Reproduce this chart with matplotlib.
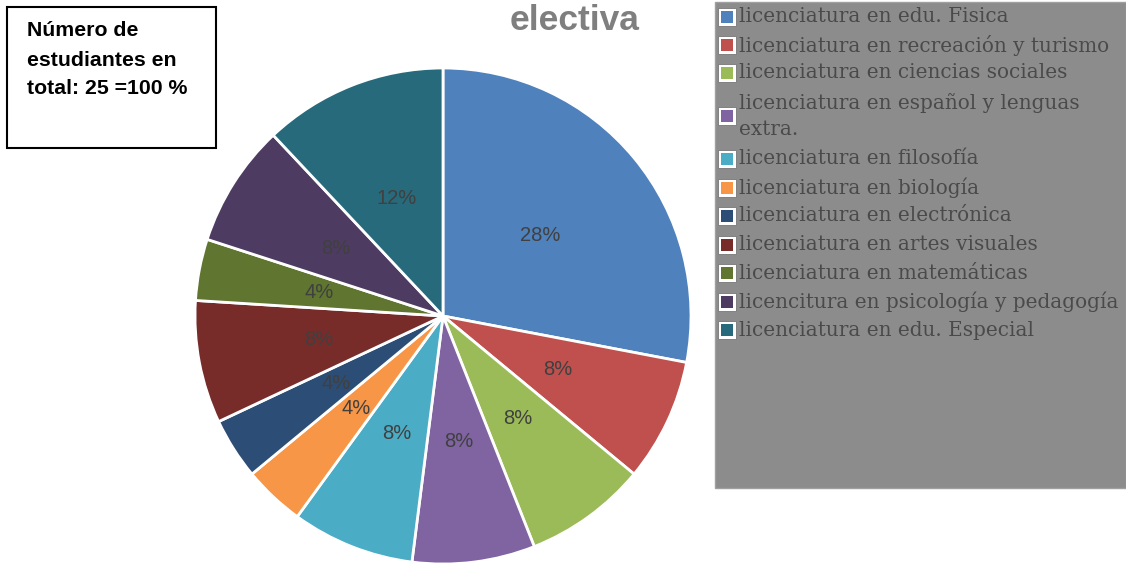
import matplotlib
matplotlib.use("Agg")
import matplotlib.pyplot as plt
from matplotlib.patches import Rectangle

categories = [
    "licenciatura en edu. Fisica",
    "licenciatura en recreación y turismo",
    "licenciatura en ciencias sociales",
    "licenciatura en español y lenguas\nextra.",
    "licenciatura en filosofía",
    "licenciatura en biología",
    "licenciatura en electrónica",
    "licenciatura en artes visuales",
    "licenciatura en matemáticas",
    "licencitura en psicología y pedagogía",
    "licenciatura en edu. Especial",
]
percentages = [28, 8, 8, 8, 8, 4, 4, 8, 4, 8, 12]
colors = ["#4F81BD", "#C0504D", "#9BBB59", "#8064A2", "#4BACC6", "#F79646",
          "#2C4D75", "#772C2A", "#5F7530", "#4D3B62", "#276A7C"]
title = "electiva"
note_lines = ["Número de", "estudiantes en", "total: 25 =100 %"]

W, H = 1126, 568
fig = plt.figure(figsize=(W / 100, H / 100), dpi=100)
fig.patch.set_facecolor("white")

# pie axes
cx, cy, R = 443, 316, 250
ax = fig.add_axes([(cx - R) / W, (H - cy - R) / H, 2 * R / W, 2 * R / H])
wedges, texts = ax.pie(
    percentages, colors=colors, startangle=90, counterclock=False,
    radius=0.992, labels=[f"{p}%" for p in percentages], labeldistance=0.51,
    wedgeprops=dict(edgecolor="white", linewidth=2),
    textprops=dict(color="#404040", fontsize=14.5, family="Liberation Sans"),
)
for t in texts:
    t.set_horizontalalignment("center")
    t.set_verticalalignment("center")
ax.set_aspect("equal")
ax.set_xlim(-1, 1)
ax.set_ylim(-1, 1)
ax.axis("off")

# title
fig.text(575 / W, 1 - 20 / H, title, ha="center", va="center", fontsize=25.5,
         fontweight="bold", color="#7F7F7F", family="Liberation Sans")

# note box
fig.patches.append(Rectangle((7 / W, 1 - 148 / H), 209 / W, 141 / H,
                             transform=fig.transFigure, facecolor="white",
                             edgecolor="black", linewidth=1.5))
for line, y in zip(note_lines, [31, 60, 88]):
    fig.text(27 / W, 1 - y / H, line, ha="left", va="center", fontsize=15.3,
             fontweight="bold", color="black", family="Liberation Sans")

# legend box
fig.patches.append(Rectangle((715 / W, 1 - 488 / H), (W - 715) / W, 486 / H,
                             transform=fig.transFigure, facecolor="#8C8C8C",
                             edgecolor="#A0A0A0", linewidth=1))
ys = [17, 45, 73, 116, 159, 188, 216, 245, 273, 302, 330]
for lab, col, y in zip(categories, colors, ys):
    fig.patches.append(Rectangle((718 / W, 1 - (y + 9) / H), 18 / W, 18 / H,
                                 transform=fig.transFigure, facecolor="white",
                                 edgecolor="#777777", linewidth=0.6))
    fig.patches.append(Rectangle((721 / W, 1 - (y + 6) / H), 12 / W, 12 / H,
                                 transform=fig.transFigure, facecolor=col,
                                 edgecolor="none"))
    fig.text(739 / W, 1 - y / H, lab, ha="left", va="center", fontsize=14.4,
             color="#4A4A4A", family="DejaVu Serif", linespacing=1.5)

fig.savefig("out.png", dpi=100, facecolor="white")
